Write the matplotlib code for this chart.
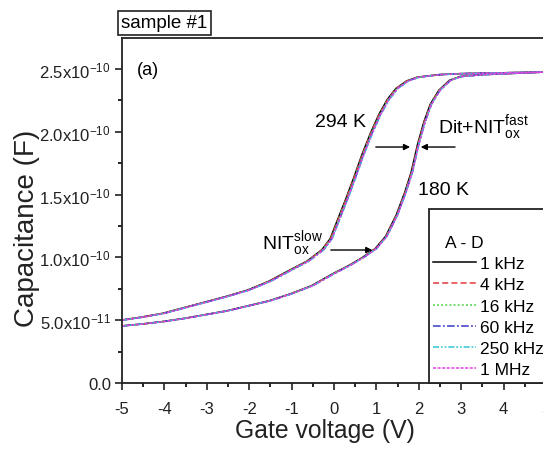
import numpy as np
import matplotlib
matplotlib.use("Agg")
import matplotlib.pyplot as plt
from matplotlib.ticker import AutoMinorLocator
from matplotlib.patches import Rectangle

plt.rcParams['font.family'] = ['Liberation Sans', 'DejaVu Sans']
plt.rcParams['mathtext.fontset'] = 'custom'
plt.rcParams['mathtext.rm'] = 'Liberation Sans'
plt.rcParams['mathtext.it'] = 'Liberation Sans:italic'
plt.rcParams['mathtext.bf'] = 'Liberation Sans:bold'
plt.rcParams['axes.unicode_minus'] = False

# C-V data (capacitance in units of 1e-10 F)
v_294 = [-5.0, -4.5, -4.0, -3.5, -3.0, -2.5, -2.0, -1.5, -1.0, -0.6, -0.25, -0.05,
         0.1, 0.3, 0.5, 0.7, 0.9, 1.1, 1.3, 1.5, 1.75, 2.0, 2.5, 3.0, 4.0, 5.0]
c_294 = [0.50, 0.525, 0.555, 0.60, 0.645, 0.69, 0.74, 0.81, 0.90, 0.97, 1.06, 1.15,
         1.28, 1.45, 1.63, 1.82, 1.99, 2.14, 2.26, 2.345, 2.405, 2.435, 2.455, 2.463,
         2.47, 2.476]

v_180 = [-5.0, -4.5, -4.0, -3.5, -3.0, -2.5, -2.0, -1.5, -1.0, -0.5, 0.0, 0.4, 0.7,
         1.0, 1.25, 1.5, 1.7, 1.85, 2.0, 2.15, 2.3, 2.5, 2.75, 3.0, 3.5, 4.0, 5.0]
c_180 = [0.454, 0.47, 0.49, 0.515, 0.545, 0.575, 0.615, 0.655, 0.71, 0.775, 0.87,
         0.94, 1.00, 1.07, 1.17, 1.34, 1.52, 1.68, 1.90, 2.08, 2.22, 2.33, 2.41, 2.44,
         2.455, 2.462, 2.476]

freqs = ['1 kHz', '4 kHz', '16 kHz', '60 kHz', '250 kHz', '1 MHz']
# small voltage offsets of each frequency seen in the steep part
shift_294 = [-0.04, -0.03, -0.02, 0.0, 0.01, 0.0]
shift_180 = [-0.03, -0.02, -0.01, 0.0, 0.0, 0.0]

yticks = [0.0, 0.5e-10, 1.0e-10, 1.5e-10, 2.0e-10, 2.5e-10]
ytick_labels = ['0.0', '5.0x10$^{-11}$', '1.0x10$^{-10}$', '1.5x10$^{-10}$',
                '2.0x10$^{-10}$', '2.5x10$^{-10}$']
xticks = [-5, -4, -3, -2, -1, 0, 1, 2, 3, 4, 5]

colors = ['black', '#e03a3a', '#40d040', '#3838c8', '#30c8d0', '#e040e0']
styles = ['-', (0, (4, 2)), (0, (1.2, 1.5)), (0, (5, 1.5, 1.2, 1.5)),
          (0, (4, 1.2, 1.2, 1.2, 1.2, 1.2)), (0, (2, 1))]

fig = plt.figure(figsize=(5.43, 4.52), dpi=100)
ax = fig.add_axes([0.2247, 0.1504, 0.7808, 0.7633])

for i in range(len(freqs)):
    ax.plot(np.array(v_294) + shift_294[i], np.array(c_294) * 1e-10,
            color=colors[i], ls=styles[i], lw=1.1, label=freqs[i])
    ax.plot(np.array(v_180) + shift_180[i], np.array(c_180) * 1e-10,
            color=colors[i], ls=styles[i], lw=1.1)

ax.set_xlim(-5, 5)
ax.set_ylim(0, 2.747e-10)
ax.set_xticks(xticks)
ax.set_yticks(yticks, ytick_labels)
ax.xaxis.set_minor_locator(AutoMinorLocator(2))
ax.yaxis.set_minor_locator(AutoMinorLocator(2))
ax.tick_params(which='major', direction='out', length=5, width=1.2, labelsize=12,
               colors='#222222')
ax.tick_params(which='minor', direction='out', length=3, width=1.2)
ax.tick_params(axis='x', pad=8)
ax.tick_params(axis='y', pad=3)
for s in ax.spines.values():
    s.set_linewidth(1.3)
    s.set_color('#222222')

ax.set_xlabel('Gate voltage (V)', fontsize=17.8, color='#222222')
ax.set_ylabel('Capacitance (F)', fontsize=20, color='#222222')
ax.xaxis.set_label_coords(0.479, -0.100)
ax.yaxis.set_label_coords(-0.193, 0.452)

# annotations
ax.text(-4.4, 2.50e-10, '(a)', fontsize=13, va='center', ha='center')
ax.text(0.15, 2.08e-10, '294 K', fontsize=14, va='center', ha='center')
ax.text(2.58, 1.54e-10, '180 K', fontsize=14, va='center', ha='center')
ax.text(2.45, 2.04e-10, r'Dit+NIT$_{\mathregular{ox}}^{\mathregular{fast}}$',
        fontsize=14, va='center', ha='left')
ax.text(-1.69, 1.12e-10, r'NIT$_{\mathregular{ox}}^{\mathregular{slow}}$',
        fontsize=14, va='center', ha='left')

arrow = dict(arrowstyle='-|>', color='k', lw=1.0, mutation_scale=9)
ax.annotate('', xy=(1.86, 1.879e-10), xytext=(0.92, 1.879e-10), arrowprops=arrow)
ax.annotate('', xy=(1.98, 1.879e-10), xytext=(2.92, 1.879e-10), arrowprops=arrow)
ax.annotate('', xy=(0.97, 1.059e-10), xytext=(-0.14, 1.059e-10), arrowprops=arrow)

# legend with its own frame
ax.add_patch(Rectangle((0.724, 0.0), 0.4, 0.504, transform=ax.transAxes,
                       fill=True, facecolor='white', edgecolor='#222222', lw=1.3,
                       clip_on=False, zorder=5))
ax.text(0.761, 0.408, 'A - D', transform=ax.transAxes, fontsize=12.5,
        va='center', ha='left', zorder=7)
leg = ax.legend(loc='upper left', bbox_to_anchor=(0.733, 0.368), frameon=False,
                fontsize=12.5, handlelength=2.5, handletextpad=0.2,
                labelspacing=0.35, borderaxespad=0, borderpad=0)
leg.set_zorder(6)

fig.text(0.303, 0.947, 'sample #1', fontsize=13.5, ha='center', va='center',
         bbox=dict(boxstyle='square,pad=0.2', fc='white', ec='#222222', lw=1.2))

fig.savefig('out.png', dpi=100)
